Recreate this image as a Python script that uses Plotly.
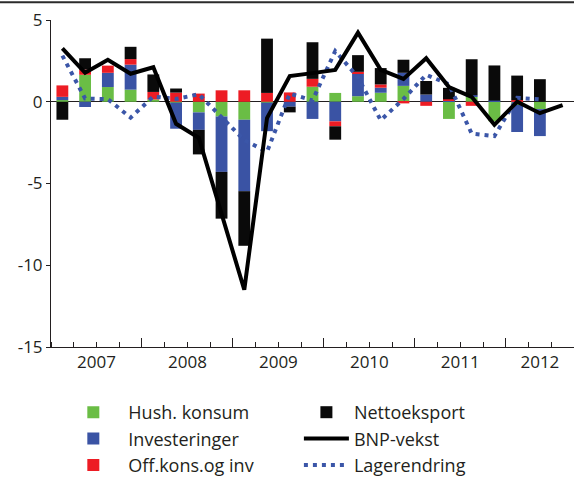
import plotly.graph_objects as go

# Quarter index: 0 = 2007K1 ... 22 = 2012K3
quarters = list(range(23))

# Contributions to GDP growth (percentage points), 2007K1-2012K2
hush_konsum = [0.10, 1.65, 0.90, 0.74, 0.14, -0.05, -0.65, -0.90, -1.10, -0.05, 0.00,
               0.92, 0.54, 0.34, 0.55, 0.97, 0.00, -1.05, 0.30, -1.20, -0.20, -0.45]
investeringer = [0.20, -0.32, 0.87, 1.53, 0.00, -1.60, -1.07, -3.39, -4.37, -1.75, -0.30,
                 -1.05, -1.20, 1.37, 0.31, 0.80, 0.44, 0.05, 0.10, 0.07, -1.65, -1.65]
off_kons = [0.70, 0.32, 0.44, 0.34, 0.46, 0.56, 0.50, 0.70, 0.70, 0.54, 0.57,
            0.48, -0.30, 0.12, 0.20, -0.10, -0.25, 0.10, -0.25, 0.00, 0.10, 0.00]
nettoeksport = [-1.10, 0.69, 0.00, 0.75, 1.07, 0.25, -1.50, -2.86, -3.34, 3.32, -0.35,
                2.24, -0.82, 1.02, 1.00, 0.80, 0.83, 0.70, 2.20, 2.15, 1.50, 1.38]

# GDP growth, 2007K1-2012K3
bnp_vekst = [3.26, 1.77, 2.57, 1.71, 2.11, -1.35, -2.20, -6.80, -11.50, -1.00, 1.57, 1.75,
             1.95, 4.23, 1.95, 1.40, 2.66, 0.90, 0.30, -1.41, 0.00, -0.70, -0.20]

# Change in inventories, 2007K1-2012K2
lagerendring = [2.82, 0.20, 0.16, -0.97, 0.32, 0.17, 0.46, -0.95, -2.35, -3.06, 0.50,
                0.08, 3.10, 1.50, -1.13, 0.17, 1.65, 1.07, -1.95, -2.10, 0.24, 0.15]

year_labels = ["2007", "2008", "2009", "2010", "2011", "2012"]
year_label_pos = [1.5, 5.5, 9.5, 13.5, 17.5, 21.0]
year_bounds = [3.5, 7.5, 11.5, 15.5, 19.5]
y_tickvals = [-15, -10, -5, 0, 5]
y_ticktext = ["-15", "-10", "-5", "0", "5"]

GREEN = "#6abd45"
BLUE = "#3a53a4"
RED = "#ed1c24"
BLACK = "#0a0a0a"
DOT_BLUE = "#3b56a8"
TXT = "#231f20"
FONT = "Open Sans"

fig = go.Figure()
x_bars = quarters[:len(hush_konsum)]
bar_specs = [
    ("Hush. konsum", hush_konsum, GREEN, "legend", 1),
    ("Investeringer", investeringer, BLUE, "legend", 2),
    ("Off.kons.og inv", off_kons, RED, "legend", 3),
    ("Nettoeksport", nettoeksport, BLACK, "legend2", 1),
]
for name, vals, color, leg, rank in bar_specs:
    fig.add_trace(go.Bar(
        x=x_bars, y=vals, name=name, width=0.52,
        marker=dict(color=color, line=dict(width=0)),
        legend=leg, legendrank=rank,
    ))

fig.add_trace(go.Scatter(
    x=quarters[:len(lagerendring)], y=lagerendring, name="Lagerendring",
    mode="lines", line=dict(color=DOT_BLUE, width=4, dash="4px,5px"),
    xaxis="x2", legend="legend2", legendrank=3,
))
fig.add_trace(go.Scatter(
    x=quarters[:len(bnp_vekst)], y=bnp_vekst, name="BNP-vekst",
    mode="lines", line=dict(color="black", width=4),
    xaxis="x2", legend="legend2", legendrank=2,
))

xr = [-0.5, 22.5]
legend_common = dict(
    yanchor="top", xanchor="left", y=-0.144,
    font=dict(family=FONT, size=18, color=TXT),
    bgcolor="rgba(0,0,0,0)", traceorder="normal",
    itemclick=False, itemdoubleclick=False,
)

fig.update_layout(
    width=574, height=484,
    margin=dict(l=51, r=0, t=20, b=133),
    paper_bgcolor="white", plot_bgcolor="white",
    barmode="relative",
    showlegend=True,
    font=dict(family=FONT, size=17, color=TXT),
    xaxis=dict(
        range=xr, tickmode="array", tickvals=year_label_pos, ticktext=year_labels,
        ticks="", showline=True, linecolor=TXT, linewidth=1, showgrid=False,
        zeroline=False, tickfont=dict(family=FONT, size=17, color=TXT),
        minor=dict(ticks="inside", ticklen=5, tickcolor=TXT, tickwidth=1,
                   tick0=0.5, dtick=1, showgrid=False),
        fixedrange=True,
    ),
    xaxis2=dict(
        range=xr, overlaying="x", anchor="y", side="bottom",
        tickmode="array", tickvals=year_bounds, ticks="inside", ticklen=9,
        tickcolor=TXT, tickwidth=1, showticklabels=False, showline=False,
        showgrid=False, zeroline=False, fixedrange=True,
    ),
    yaxis=dict(
        range=[-15, 5], tickmode="array", tickvals=y_tickvals, ticktext=y_ticktext,
        ticks="outside", ticklen=4, tickcolor=TXT, showline=True, linecolor=TXT,
        linewidth=1, showgrid=False, zeroline=True, zerolinecolor=TXT,
        zerolinewidth=1, layer="above traces",
        tickfont=dict(family=FONT, size=17, color=TXT), fixedrange=True,
    ),
    legend=dict(x=0.014, itemwidth=60, **legend_common),
    legend2=dict(x=0.474, itemwidth=45, **legend_common),
    shapes=[dict(type="line", xref="paper", yref="paper", x0=-0.0975, x1=1.0,
                 y0=1.0544, y1=1.0544, layer="above",
                 line=dict(color="#2b2b2b", width=2))],
)

# remove the browser's default page margin so the figure sits at the window origin
fig.write_html("out.html", config={"displayModeBar": False},
               post_script="document.body.style.margin='0';")
